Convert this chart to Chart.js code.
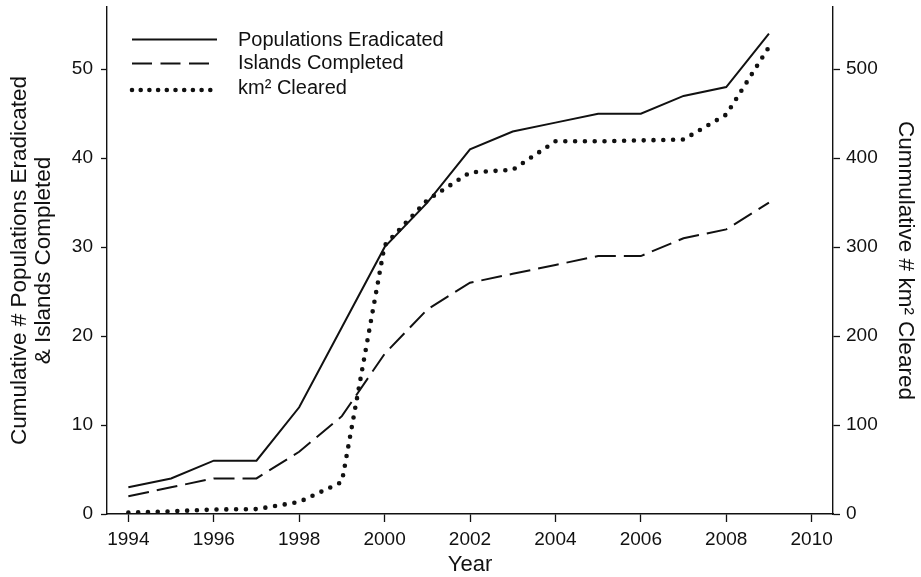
<!DOCTYPE html>
<html>
<head>
<meta charset="utf-8">
<script src="https://cdn.jsdelivr.net/npm/chart.js@4/dist/chart.umd.min.js"></script>
<style>
  html, body { margin: 0; padding: 0; background: #ffffff; }
  #wrap { width: 921px; height: 577px; position: relative; }
</style>
</head>
<body>
<div id="wrap"><canvas id="c" width="921" height="577"></canvas></div>
<script>
// ---- data ----
const years = [1994, 1995, 1996, 1997, 1998, 1999, 2000, 2001, 2002, 2003, 2004, 2005, 2006, 2007, 2008, 2009];
const populationsEradicated = [3, 4, 6, 6, 12, 21, 30, 35, 41, 43, 44, 45, 45, 47, 48, 54];
const islandsCompleted = [2, 3, 4, 4, 7, 11, 18, 23, 26, 27, 28, 29, 29, 31, 32, 35];
const km2Cleared = [1.5, 3, 5, 5.5, 13.5, 36, 302, 353, 384, 387, 419, 419, 420, 421, 449, 525];
const xTicks = [1994, 1996, 1998, 2000, 2002, 2004, 2006, 2008, 2010];
const leftTicks = [0, 10, 20, 30, 40, 50];
const rightTicks = [0, 100, 200, 300, 400, 500];
const seriesNames = ['Populations Eradicated', 'Islands Completed', 'km\u00B2 Cleared'];

const FONT = '"Liberation Sans", Arial, Helvetica, sans-serif';
const INK = '#111111';

const pts = arr => years.map((yr, i) => ({ x: yr, y: arr[i] }));

const legendPlugin = {
  id: 'manualLegend',
  afterDraw(chart) {
    const ctx = chart.ctx;
    const rows = [
      { y: 39.5, ty: 40, ds: chart.data.datasets[0] },
      { y: 63.5, ty: 63.5, ds: chart.data.datasets[1] },
      { y: 90, ty: 88.5, ds: chart.data.datasets[2] }
    ];
    ctx.save();
    rows.forEach(r => {
      ctx.beginPath();
      ctx.strokeStyle = r.ds.borderColor;
      ctx.lineWidth = r.ds.borderWidth;
      ctx.lineCap = r.ds.borderCapStyle || 'butt';
      ctx.setLineDash(r.ds.legendDash || r.ds.borderDash || []);
      ctx.moveTo(132, r.y);
      ctx.lineTo(217, r.y);
      ctx.stroke();
      ctx.setLineDash([]);
      ctx.fillStyle = INK;
      ctx.font = '20px ' + FONT;
      ctx.textAlign = 'left';
      ctx.textBaseline = 'middle';
      ctx.fillText(r.ds.label, 238, r.ty);
    });
    ctx.restore();
  }
};

const setTicks = list => function (scale) {
  scale.ticks = list.map(v => ({ value: v }));
};
const fitV = w => function (s) {
  s.width = w;
  s.paddingTop = 0;
  s.paddingBottom = 0;
};
const fitH = h => function (s) {
  s.height = h;
  s.paddingLeft = 0;
  s.paddingRight = 0;
};

new Chart(document.getElementById('c'), {
  type: 'line',
  data: {
    datasets: [
      {
        label: seriesNames[0],
        data: pts(populationsEradicated),
        borderColor: INK,
        borderWidth: 2,
        pointRadius: 0,
        tension: 0,
        yAxisID: 'y'
      },
      {
        label: seriesNames[1],
        data: pts(islandsCompleted),
        borderColor: INK,
        borderWidth: 2,
        borderDash: [21, 8],
        legendDash: [20, 8.5],
        pointRadius: 0,
        tension: 0,
        yAxisID: 'y'
      },
      {
        label: seriesNames[2],
        data: pts(km2Cleared),
        borderColor: INK,
        borderWidth: 4.6,
        borderDash: [0, 9.8],
        legendDash: [0, 8.7],
        borderCapStyle: 'round',
        pointRadius: 0,
        tension: 0,
        yAxisID: 'y2'
      }
    ]
  },
  options: {
    responsive: false,
    animation: false,
    devicePixelRatio: 1,
    layout: { padding: { top: 7, left: 0, right: 0, bottom: 0 } },
    plugins: {
      legend: { display: false },
      tooltip: { enabled: false },
      title: { display: false }
    },
    scales: {
      x: {
        type: 'linear',
        position: 'bottom',
        min: 1993.5,
        max: 2010.5,
        afterBuildTicks: setTicks(xTicks),
        afterFit: fitH(63),
        grid: { drawOnChartArea: false, drawTicks: true, tickLength: 8, color: INK, tickWidth: 1.3 },
        border: { display: true, color: INK, width: 1.4 },
        ticks: { color: INK, padding: 6, font: { family: FONT, size: 19 }, maxRotation: 0, autoSkip: false, callback: v => String(v) },
        title: { display: true, text: 'Year', color: INK, font: { family: FONT, size: 22, lineHeight: 1.1 }, padding: { top: 0, bottom: 0 } }
      },
      y: {
        type: 'linear',
        position: 'left',
        min: 0,
        max: 57,
        afterBuildTicks: setTicks(leftTicks),
        afterFit: fitV(107),
        grid: { drawOnChartArea: false, drawTicks: true, tickLength: 6, color: INK, tickWidth: 1.3 },
        border: { display: true, color: INK, width: 1.4 },
        ticks: { color: INK, padding: 8, font: { family: FONT, size: 19 }, autoSkip: false },
        title: {
          display: true,
          text: ['Cumulative # Populations Eradicated', '& Islands Completed'],
          color: INK,
          font: { family: FONT, size: 22.5, lineHeight: 1.07 },
          padding: { top: 8, bottom: 0 }
        }
      },
      y2: {
        type: 'linear',
        position: 'right',
        min: 0,
        max: 570,
        afterBuildTicks: setTicks(rightTicks),
        afterFit: fitV(88),
        grid: { drawOnChartArea: false, drawTicks: true, tickLength: 7, color: INK, tickWidth: 1.3 },
        border: { display: true, color: INK, width: 1.4 },
        ticks: { color: INK, padding: 6, font: { family: FONT, size: 19 }, autoSkip: false },
        title: {
          display: true,
          text: 'Cummulative # km\u00B2 Cleared',
          color: INK,
          font: { family: FONT, size: 22.5, lineHeight: 1.2 },
          padding: { top: 2, bottom: 0 }
        }
      }
    }
  },
  plugins: [legendPlugin]
});
</script>
</body>
</html>
